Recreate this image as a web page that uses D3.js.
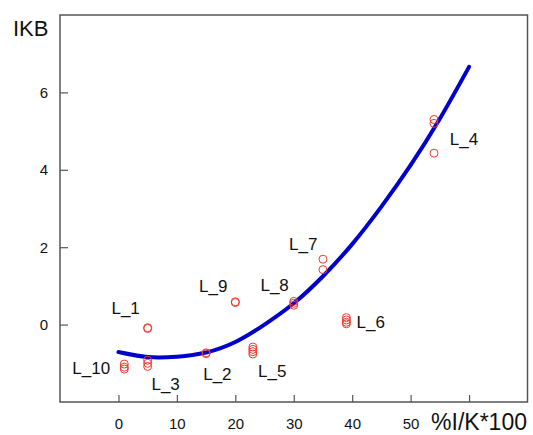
<!DOCTYPE html>
<html>
<head>
<meta charset="utf-8">
<script src="https://cdn.jsdelivr.net/npm/d3@7"></script>
<style>
  html, body { margin: 0; padding: 0; background: #fff; }
  svg { display: block; font-family: "Liberation Sans", Arial, sans-serif; }
</style>
</head>
<body>
<div id="chart"></div>
<script>
// observed points (x = %I/K*100, y = IKB)
const pointX = [5, 5, 1, 1, 1, 5, 5, 5, 15, 15, 20, 20, 23, 23, 23, 23, 30, 30, 30, 35, 35, 39, 39, 39, 39, 54, 54, 54];
const pointY = [-0.08, -0.1, -1.02, -1.1, -1.15, -0.92, -1.0, -1.08, -0.73, -0.75, 0.57, 0.59,
  -0.58, -0.64, -0.70, -0.76, 0.60, 0.55, 0.50, 1.69, 1.42, 0.18, 0.12, 0.06, 0.02, 5.30, 5.20, 4.43];

// fitted curve
const curveX = [0, 5, 10, 15, 20, 25, 30, 35, 40, 45, 50, 55, 60];
const curveY = [-0.71, -0.84, -0.83, -0.72, -0.45, 0.0, 0.55, 1.25, 2.08, 3.05, 4.12, 5.32, 6.66];

// labels (left edge, baseline) in data units
const labelText = ['L_1', 'L_10', 'L_3', 'L_2', 'L_5', 'L_9', 'L_8', 'L_7', 'L_6', 'L_4'];
const labelX = [-1.2, -7.9, 5.65, 14.5, 23.9, 13.8, 24.3, 29.2, 40.75, 56.7];
const labelY = [0.285, -1.27, -1.68, -1.42, -1.36, 0.845, 0.87, 1.94, -0.10, 4.65];

const xTicks = [0, 10, 20, 30, 40, 50, 60];
const yTicks = [0, 2, 4, 6];

const width = 533, height = 435;
const margin = { top: 15, right: 5.5, bottom: 33, left: 60 };

const svg = d3.select('#chart')
  .append('svg')
  .attr('width', width)
  .attr('height', height);

const x = d3.scaleLinear()
  .domain([-10, 70])
  .range([margin.left, width - margin.right]);

const y = d3.scaleLinear()
  .domain([-2, 8])
  .range([height - margin.bottom, margin.top]);

const axisColor = '#555';

// x axis
const gx = svg.append('g')
  .attr('transform', `translate(0,${height - margin.bottom})`)
  .call(d3.axisBottom(x)
    .tickValues(xTicks)
    .tickSizeInner(-7)
    .tickSizeOuter(0)
    .tickPadding(16)
    .tickFormat(d => d === 60 ? '' : d));

// y axis
const gy = svg.append('g')
  .attr('transform', `translate(${margin.left},0)`)
  .call(d3.axisLeft(y)
    .tickValues(yTicks)
    .tickSizeInner(-8)
    .tickSizeOuter(0)
    .tickPadding(12));

[gx, gy].forEach(g => {
  g.select('.domain').remove();
  g.selectAll('line').attr('stroke', axisColor).attr('stroke-width', 1.2);
  g.selectAll('text')
    .attr('fill', '#111')
    .style('font-size', '15px')
    .style('font-family', '"Liberation Sans", Arial, sans-serif');
});

// frame
svg.append('rect')
  .attr('x', x(-10))
  .attr('y', y(8))
  .attr('width', x(70) - x(-10))
  .attr('height', y(-2) - y(8))
  .attr('fill', 'none')
  .attr('stroke', axisColor)
  .attr('stroke-width', 1.5);

// axis titles
svg.append('text')
  .attr('x', 13)
  .attr('y', 36)
  .attr('fill', '#111')
  .style('font-size', '22px')
  .text('IKB');

svg.append('text')
  .attr('x', 527)
  .attr('y', 430)
  .attr('text-anchor', 'end')
  .attr('fill', '#111')
  .style('font-size', '23px')
  .text('%I/K*100');

// fitted curve
const curveData = curveX.map((d, i) => [d, curveY[i]]);
svg.append('path')
  .datum(curveData)
  .attr('fill', 'none')
  .attr('stroke', '#0000cc')
  .attr('stroke-width', 4)
  .attr('stroke-linecap', 'round')
  .attr('d', d3.line()
    .x(d => x(d[0]))
    .y(d => y(d[1]))
    .curve(d3.curveNatural));

// points
svg.append('g')
  .selectAll('circle')
  .data(pointX.map((d, i) => [d, pointY[i]]))
  .enter()
  .append('circle')
  .attr('cx', d => x(d[0]))
  .attr('cy', d => y(d[1]))
  .attr('r', 4)
  .attr('fill', 'none')
  .attr('stroke', '#f03a30')
  .attr('stroke-width', 1);

// labels
svg.append('g')
  .selectAll('text')
  .data(labelText)
  .enter()
  .append('text')
  .attr('x', (d, i) => x(labelX[i]))
  .attr('y', (d, i) => y(labelY[i]))
  .attr('fill', '#111')
  .style('font-size', '17px')
  .text(d => d);
</script>
</body>
</html>
